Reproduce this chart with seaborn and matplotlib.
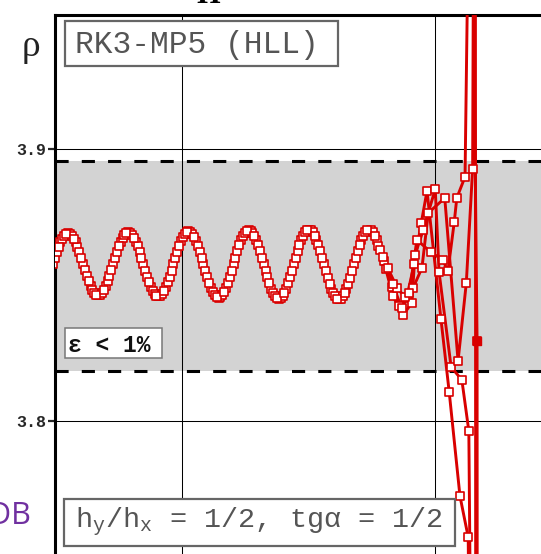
import numpy as np
import pandas as pd
import matplotlib
matplotlib.use('Agg')
import matplotlib.pyplot as plt
import seaborn as sns
from matplotlib.patches import Rectangle

# ---- data (density along four grid lines) ----
rho_ref = 3.857          # exact post-shock density
eps = 0.01               # +-1% band

dx = 1.1875              # sample spacing along each line
x0 = {'A': -0.325, 'B': -0.025, 'C': 0.275, 'D': 0.575}

wave_a = [3.8577, 3.8658, 3.8691, 3.8658, 3.8577, 3.8496, 3.8463, 3.8496,
          3.8577, 3.8660, 3.8695, 3.8660, 3.8577, 3.8494, 3.8459, 3.8494,
          3.8577, 3.8663, 3.8699, 3.8663, 3.8577, 3.8491, 3.8455, 3.8491,
          3.8577, 3.8666, 3.8703, 3.8666, 3.8577, 3.8488, 3.8451, 3.8488,
          3.8577, 3.8668, 3.8705, 3.8668, 3.8577, 3.8486, 3.8449, 3.8486,
          3.8577, 3.8668, 3.8700]
wave_b = [3.8599, 3.8672, 3.8689, 3.8640, 3.8555, 3.8482, 3.8465, 3.8514,
          3.8600, 3.8675, 3.8693, 3.8643, 3.8554, 3.8479, 3.8461, 3.8511,
          3.8601, 3.8678, 3.8697, 3.8645, 3.8553, 3.8476, 3.8457, 3.8509,
          3.8602, 3.8682, 3.8701, 3.8647, 3.8552, 3.8472, 3.8453, 3.8507,
          3.8602, 3.8683, 3.8703, 3.8648, 3.8552, 3.8471, 3.8451, 3.8506,
          3.8602, 3.8683, 3.8703]
wave_c = [3.8621, 3.8682, 3.8682, 3.8621, 3.8533, 3.8472, 3.8472, 3.8533,
          3.8622, 3.8686, 3.8686, 3.8622, 3.8532, 3.8468, 3.8468, 3.8532,
          3.8624, 3.8690, 3.8690, 3.8624, 3.8530, 3.8464, 3.8464, 3.8530,
          3.8625, 3.8693, 3.8693, 3.8625, 3.8529, 3.8461, 3.8461, 3.8529,
          3.8626, 3.8695, 3.8695, 3.8626, 3.8528, 3.8459, 3.8459, 3.8528,
          3.8626, 3.8695, 3.8695]
wave_d = [3.8640, 3.8689, 3.8672, 3.8599, 3.8514, 3.8465, 3.8482, 3.8555,
          3.8643, 3.8693, 3.8675, 3.8600, 3.8511, 3.8461, 3.8479, 3.8554,
          3.8645, 3.8697, 3.8678, 3.8601, 3.8509, 3.8457, 3.8476, 3.8553,
          3.8647, 3.8701, 3.8682, 3.8602, 3.8507, 3.8453, 3.8472, 3.8552,
          3.8648, 3.8703, 3.8683, 3.8602, 3.8506, 3.8451, 3.8471, 3.8552,
          3.8648, 3.8703, 3.8683]

# near the shock the lines split
tail_a_x = [50.74, 51.93, 53.11, 54.3, 55.49, 56.7, 57.8, 58.7, 60.9, 62.2, 63.9, 65.2, 66.0, 66.8]
tail_a_y = [3.8665, 3.8590, 3.8495, 3.8425, 3.8455, 3.8580, 3.8730, 3.8847, 3.8376, 3.8108, 3.7725, 3.7574, 3.55, 1.0]
tail_b_x = [51.04, 52.2, 53.3, 54.9, 56.3, 56.8, 58.1, 60.0, 60.6, 62.5, 64.2, 65.3, 66.2, 67.0]
tail_b_y = [3.8645, 3.8560, 3.8461, 3.8390, 3.8435, 3.8611, 3.8703, 3.8854, 3.8549, 3.8200, 3.8152, 3.7964, 3.55, 1.0]
tail_c_x = [51.3, 52.5, 54.0, 55.2, 56.5, 57.9, 58.9, 61.5, 63.6, 64.9, 65.9, 66.3, 66.9]
tail_c_y = [3.8630, 3.8564, 3.8490, 3.8457, 3.8490, 3.8564, 3.8766, 3.8821, 3.8222, 3.8509, 3.8929, 4.15, 1.0]
tail_d_x = [51.8, 53.3, 54.7, 55.9, 57.1, 59.3, 61.2, 62.0, 63.0, 63.4, 64.7, 65.6, 66.6, 67.2]
tail_d_y = [3.8604, 3.8505, 3.8415, 3.8470, 3.8667, 3.8622, 3.8593, 3.8552, 3.8733, 3.8821, 3.8899, 4.05, 3.8295, 1.0]

solid_x = [66.6]
solid_y = [3.8295]

y_ticks = [3.8, 3.9]
y_ticklabels = ['3.8', '3.9']
x_grid = [20, 60]

waves = {'A': wave_a, 'B': wave_b, 'C': wave_c, 'D': wave_d}
tails = {'A': (tail_a_x, tail_a_y), 'B': (tail_b_x, tail_b_y),
         'C': (tail_c_x, tail_c_y), 'D': (tail_d_x, tail_d_y)}

frames = []
for k in ['A', 'B', 'C', 'D']:
    xs = list(x0[k] + dx * np.arange(len(waves[k]))) + tails[k][0]
    ys = waves[k] + tails[k][1]
    frames.append(pd.DataFrame({'x': xs, 'rho': ys, 'line': k}))
df = pd.concat(frames, ignore_index=True)

# ---- figure ----
sns.set_style('white')
plt.rcParams['mathtext.fontset'] = 'custom'
plt.rcParams['mathtext.rm'] = 'Liberation Mono'
plt.rcParams['mathtext.it'] = 'Liberation Mono'

W, H = 541, 554
red = '#d90000'
fig = plt.figure(figsize=(W / 100, H / 100), dpi=100)
# axes run past the right and bottom edges of the picture
ax = fig.add_axes([55 / W, -0.25144, 633.75 / W, 678.3 / H])

ax.axhspan(rho_ref * (1 - eps), rho_ref * (1 + eps), color='#d3d3d3', lw=0, zorder=0.2)
for v in [rho_ref * (1 - eps), rho_ref * (1 + eps)]:
    ax.axhline(v, color='black', lw=2.2, dashes=(4.3, 4.3), zorder=1)

sns.lineplot(data=df, x='x', y='rho', hue='line', palette=[red] * 4, sort=False,
             estimator=None, lw=2.1, legend=False, ax=ax, zorder=3)
sns.scatterplot(data=df, x='x', y='rho', marker='s', s=34, color='white',
                edgecolor=red, linewidth=1.2, legend=False, ax=ax, zorder=4)
ax.scatter(solid_x, solid_y, marker='s', s=34, color=red, zorder=4)

ax.set_xlim(0, 100)
ax.set_ylim(3.70, 3.94938)
ax.set_xticks(x_grid)
ax.set_xticklabels([])
ax.set_yticks(y_ticks)
ax.set_yticklabels(y_ticklabels, fontfamily='Liberation Mono', fontweight='bold', fontsize=12)
ax.tick_params(axis='x', length=0)
ax.tick_params(axis='y', direction='out', length=5, width=1.6, pad=1, left=True)
ax.grid(True, color='black', lw=0.75)
ax.set_axisbelow(True)
ax.set_xlabel('')
ax.set_ylabel('')
for s in ['right', 'bottom']:
    ax.spines[s].set_visible(False)
for s in ['left', 'top']:
    ax.spines[s].set_linewidth(2.2)
    ax.spines[s].set_color('black')


def fx(px):
    return px / W


def fy(py):
    return 1 - py / H


def box(x0p, y0p, x1p, y1p, ec='#666666', lw=1.6):
    r = Rectangle((fx(x0p), fy(y1p)), (x1p - x0p) / W, (y1p - y0p) / H,
                  transform=fig.transFigure, facecolor='white', edgecolor=ec,
                  lw=lw, zorder=10)
    fig.add_artist(r)


mono = ['Liberation Mono', 'DejaVu Sans Mono']

box(65, 21, 338, 66)
fig.text(fx(75), fy(53), 'RK3-MP5 (HLL)', ha='left', va='baseline', fontsize=22.5,
         family=mono, color='#555555', zorder=11)

box(65, 328, 162, 358, ec='#777777', lw=1.1)
fig.text(fx(68), fy(351.5), 'ε < 1%', ha='left', va='baseline', fontsize=16.5,
         family=mono, fontweight='bold', color='#111111', zorder=11)

box(64, 499, 455, 546)
fig.text(fx(75), fy(527), r'h$_\mathrm{y}$/h$_\mathrm{x}$ = 1/2, tgα = 1/2', ha='left',
         va='baseline', fontsize=20.5, family=mono, color='#555555', zorder=11)

fig.text(fx(31), fy(56), 'ρ', ha='center', va='baseline', fontsize=27,
         family=['Liberation Serif', 'DejaVu Serif'], color='#222222')
fig.text(fx(31), fy(524), 'DB', ha='right', va='baseline', fontsize=22,
         family=['Open Sans', 'DejaVu Sans'], color='#7030a0')
fig.text(fx(208), fy(3), 'П', ha='center', va='baseline', fontsize=22,
         family=['Liberation Serif', 'DejaVu Serif'], fontweight='bold', color='black')

fig.savefig('out.png', dpi=100)
